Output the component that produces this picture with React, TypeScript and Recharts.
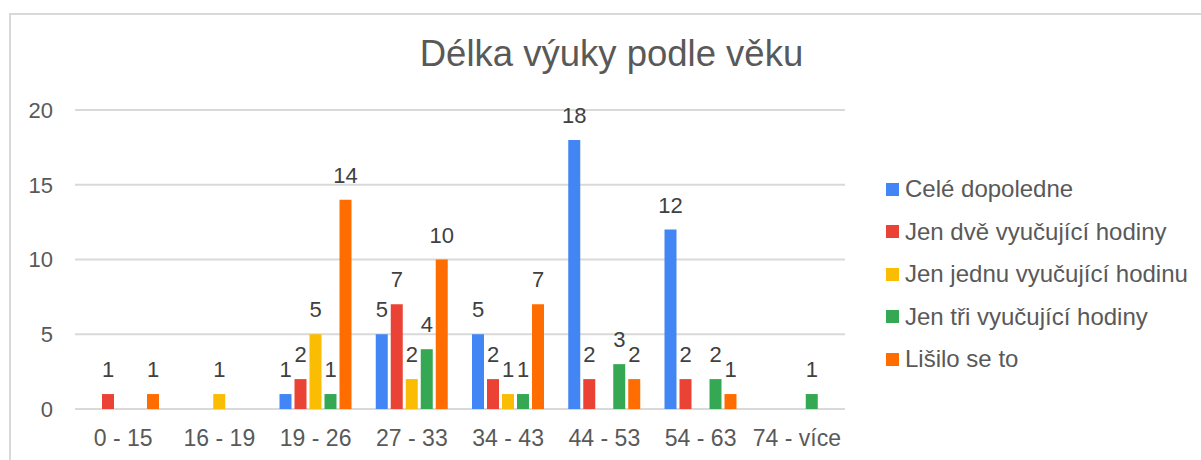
import { BarChart, Bar, XAxis, YAxis, CartesianGrid, Legend, LabelList } from "recharts";

const categories = ["0 - 15", "16 - 19", "19 - 26", "27 - 33", "34 - 43", "44 - 53", "54 - 63", "74 - více"];
const celeDopoledne = [0, 0, 1, 5, 5, 18, 12, 0];
const jenDve = [1, 0, 2, 7, 2, 2, 2, 0];
const jenJednu = [0, 1, 5, 2, 1, 0, 0, 0];
const jenTri = [0, 0, 1, 4, 1, 3, 2, 1];
const lisiloSe = [1, 0, 14, 10, 7, 2, 1, 0];
const yTicks = [0, 5, 10, 15, 20];

const SERIES = [
  { key: "cele", name: "Celé dopoledne", values: celeDopoledne, color: "#4285F4" },
  { key: "dve", name: "Jen dvě vyučující hodiny", values: jenDve, color: "#EA4335" },
  { key: "jednu", name: "Jen jednu vyučující hodinu", values: jenJednu, color: "#FBBC04" },
  { key: "tri", name: "Jen tři vyučující hodiny", values: jenTri, color: "#34A853" },
  { key: "lisilo", name: "Lišilo se to", values: lisiloSe, color: "#FF6D01" },
];

const FONT = "'Liberation Sans', Arial, sans-serif";
const TEXT = "#595959";

const chartData = categories.map((cat, i) => {
  const row: Record<string, string | number> = { cat };
  SERIES.forEach((s) => {
    row[s.key] = s.values[i];
  });
  return row;
});

function ValueLabel(props: any) {
  const { x, y, width, value } = props;
  if (!value) return null;
  return (
    <text
      x={Number(x) + Number(width) / 2}
      y={Number(y) - 17}
      textAnchor="middle"
      fontSize={22}
      fontFamily={FONT}
      fill="#404040"
    >
      {value}
    </text>
  );
}

function LegendBox(props: any) {
  const payload = props.payload || [];
  return (
    <div style={{ fontFamily: FONT, fontSize: 24, color: TEXT }}>
      {payload.map((p: any) => (
        <div key={p.value} style={{ display: "flex", alignItems: "center", height: 42.5, whiteSpace: "nowrap" }}>
          <span style={{ display: "inline-block", width: 13, height: 13, background: p.color, marginRight: 6 }} />
          <span>{p.value}</span>
        </div>
      ))}
    </div>
  );
}

export default function App() {
  return (
    <div style={{ position: "relative", width: 1201, height: 460, overflow: "hidden", background: "#fff" }}>
      <style>{`body{margin:0}`}</style>
      <div
        style={{
          position: "absolute",
          left: 9,
          top: 13,
          width: 1400,
          height: 700,
          border: "2px solid #d9d9d9",
          boxSizing: "border-box",
        }}
      />
      <div
        style={{
          position: "absolute",
          left: 0,
          width: 1223,
          top: 34,
          textAlign: "center",
          fontFamily: FONT,
          fontSize: 36.5,
          color: TEXT,
          lineHeight: "40px",
        }}
      >
        Délka výuky podle věku
      </div>
      <div style={{ position: "absolute", left: 0, top: 0 }}>
        <BarChart
          width={1201}
          height={460}
          data={chartData}
          margin={{ top: 110, right: 41, bottom: 11, left: 15 }}
          barSize={12}
          barGap={3}
        >
          <CartesianGrid vertical={false} stroke="#d9d9d9" strokeWidth={2} />
          <XAxis
            dataKey="cat"
            axisLine={false}
            tickLine={false}
            tickSize={0}
            tickMargin={21}
            height={40}
            interval={0}
            tick={{ fontSize: 23, fontFamily: FONT, fill: TEXT }}
          />
          <YAxis
            domain={[0, 20]}
            ticks={yTicks}
            axisLine={false}
            tickLine={false}
            tickSize={0}
            tickMargin={22}
            width={60}
            tick={{ fontSize: 22, fontFamily: FONT, fill: TEXT }}
          />
          <Legend
            layout="vertical"
            align="right"
            verticalAlign="top"
            content={<LegendBox />}
            wrapperStyle={{ left: 886, top: 168, width: 315 }}
          />
          {SERIES.map((s) => (
            <Bar key={s.key} dataKey={s.key} name={s.name} fill={s.color} isAnimationActive={false}>
              <LabelList dataKey={s.key} content={<ValueLabel />} />
            </Bar>
          ))}
        </BarChart>
      </div>
    </div>
  );
}
